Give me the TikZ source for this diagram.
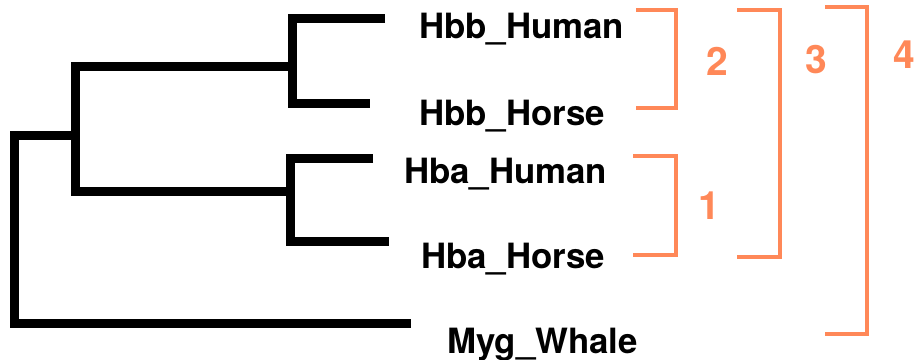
\documentclass[tikz,border=0pt]{standalone}
\usepackage{fontspec}
\setmainfont{TeX Gyre Heros}
\usepackage{xcolor}
\definecolor{cladeorange}{RGB}{255,136,88}
\begin{document}
\begin{tikzpicture}[x=1pt,y=-1pt,
  branch/.style={line width=9pt,line join=miter},
  bracket/.style={cladeorange,line width=4pt},
  taxon/.style={anchor=base west,inner sep=0pt,font=\fontsize{34.8}{40}\selectfont\bfseries},
  cladenum/.style={inner sep=0pt,text=cladeorange,font=\fontsize{39}{46}\selectfont\bfseries}]
  \useasboundingbox (0,0) rectangle (915,359);
  \coordinate (root) at (14,135); \coordinate (hb) at (75,135);
  \coordinate (bb) at (292,66); \coordinate (ba) at (290,191);
  \coordinate (tHbbHuman) at (385,18); \coordinate (tHbbHorse) at (370,103);
  \coordinate (tHbaHuman) at (373,158); \coordinate (tHbaHorse) at (389,241);
  \coordinate (tMygWhale) at (411,323);
  \draw[branch] (tHbbHuman) -| (bb) |- (tHbbHorse);
  \draw[branch] (tHbaHuman) -| (ba) |- (tHbaHorse);
  \draw[branch] (bb) -| (hb) |- (ba);
  \draw[branch] (hb) -- (root) |- (tMygWhale);
  \node[taxon] (lHbbHuman) at (419,38) {Hbb\_Human};
  \node[taxon] (lHbbHorse) at (419,125) {Hbb\_Horse};
  \node[taxon] (lHbaHuman) at (404,183) {Hba\_Human};
  \node[taxon] (lHbaHorse) at (421,268) {Hba\_Horse};
  \node[taxon] (lMygWhale) at (447,353) {Myg\_Whale};
  \draw[bracket] (636,10) -| (676,108) -- (636,108);\node[cladenum] (c2) at (717,61) {2};
  \draw[bracket] (633,156) -| (676,255) -- (633,255);\node[cladenum] (c1) at (709,206) {1};
  \draw[bracket] (737,10) -| (780,257) -- (737,257);\node[cladenum] (c3) at (816,60) {3};
  \draw[bracket] (825,7) -| (867,334) -- (825,334);\node[cladenum] (c4) at (904,55) {4};
\end{tikzpicture}
\end{document}
